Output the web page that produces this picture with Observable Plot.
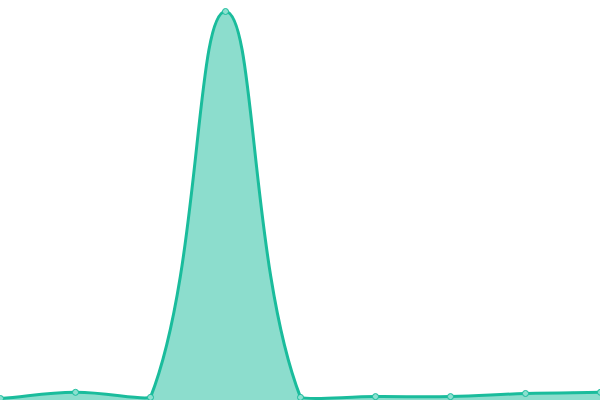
<!DOCTYPE html>
<html><head><meta charset="utf-8">
<script src="https://cdn.jsdelivr.net/npm/d3@7"></script>
<script src="https://cdn.jsdelivr.net/npm/@observablehq/plot@0.6"></script>
<style>html,body{margin:0;padding:0;background:#fff;overflow:hidden}</style>
</head><body><div id="chart"></div>
<script>
const categories = [0, 1, 2, 3, 4, 5, 6, 7, 8];
const values = [0.5, 2.1, 0.8, 100, 0.8, 1.0, 1.0, 1.8, 2.1];
const data = categories.map((c, i) => ({x: c, y: values[i]}));

const W = 600, H = 400, TENSION = 0.4;
// Smooth spline with tension, control points capped to the plot area
function SplineCurve(context) { this._context = context; }
SplineCurve.prototype = {
  areaStart() { this._line = 0; },
  areaEnd() { this._line = NaN; },
  lineStart() { this._pts = []; },
  point(x, y) { this._pts.push([+x, +y]); },
  lineEnd() {
    const p = this._pts, c = this._context, n = p.length;
    if (n) {
      if (this._line) c.lineTo(p[0][0], p[0][1]); else c.moveTo(p[0][0], p[0][1]);
      const cps = p.map((cur, i) => {
        const prev = p[i - 1] || cur, next = p[i + 1] || cur;
        const d01 = Math.hypot(cur[0] - prev[0], cur[1] - prev[1]);
        const d12 = Math.hypot(next[0] - cur[0], next[1] - cur[1]);
        let s01 = d01 / (d01 + d12), s12 = d12 / (d01 + d12);
        if (isNaN(s01)) s01 = 0; if (isNaN(s12)) s12 = 0;
        const fa = TENSION * s01, fb = TENSION * s12;
        const cap = (x, y) => [Math.max(0, Math.min(W, x)), Math.max(0, Math.min(H, y))];
        return {
          prev: cap(cur[0] - fa * (next[0] - prev[0]), cur[1] - fa * (next[1] - prev[1])),
          next: cap(cur[0] + fb * (next[0] - prev[0]), cur[1] + fb * (next[1] - prev[1]))
        };
      });
      for (let i = 1; i < n; ++i) {
        const a = cps[i - 1].next, b = cps[i].prev;
        c.bezierCurveTo(a[0], a[1], b[0], b[1], p[i][0], p[i][1]);
      }
    }
    if (this._line || (this._line !== 0 && n === 1)) c.closePath();
    this._line = 1 - this._line;
  }
};
const spline = (context) => new SplineCurve(context);

const chart = Plot.plot({
  width: W, height: H,
  marginTop: 11, marginBottom: 0, marginLeft: 0, marginRight: 0,
  x: {domain: [0, 8], axis: null},
  y: {domain: [0, 100], axis: null},
  marks: [
    Plot.areaY(data, {x: "x", y: "y", curve: spline, fill: "#1abc9c", fillOpacity: 0.5}),
    Plot.lineY(data, {x: "x", y: "y", curve: spline, stroke: "#1abc9c", strokeWidth: 3}),
    Plot.dot(data, {x: "x", y: "y", r: 3, fill: "#8ce0d0", stroke: "#1abc9c", strokeWidth: 1})
  ]
});
document.getElementById("chart").appendChild(chart);
</script></body></html>
